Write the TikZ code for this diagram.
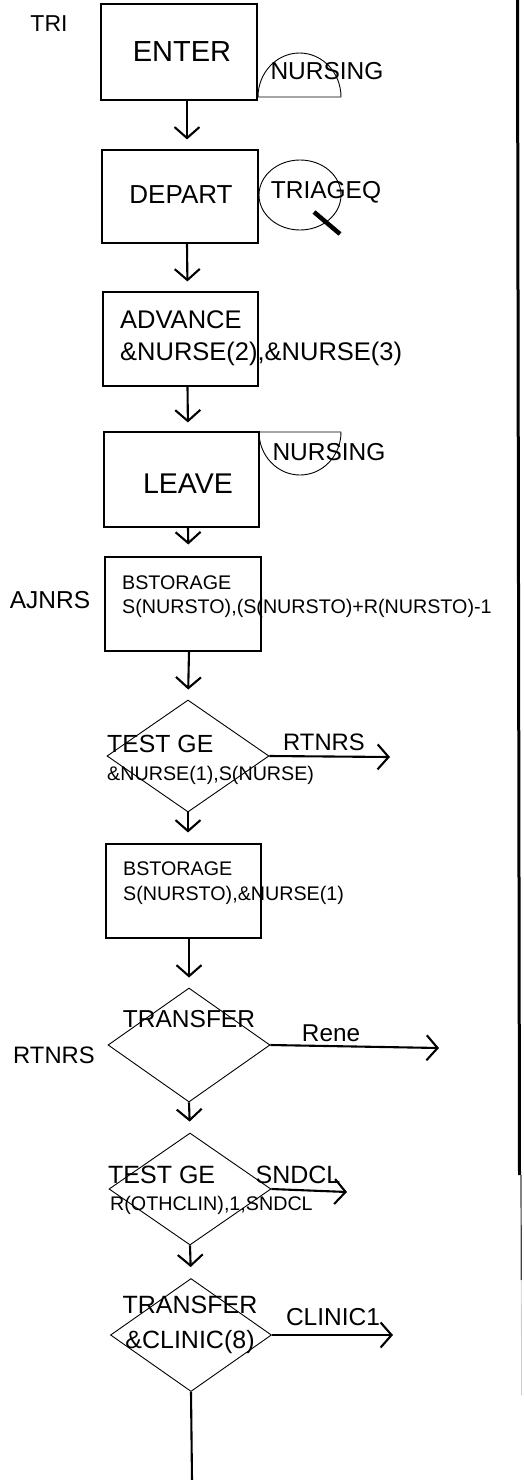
\documentclass[tikz,border=0pt]{standalone}
\usepackage{fontspec}
\setmainfont{Liberation Sans}
\usetikzlibrary{arrows.meta,shapes.geometric}
\tikzset{
  blk/.style={draw, line width=1.1pt, rectangle, inner sep=0pt},
  dia/.style={draw, line width=0.9pt, diamond, inner sep=0pt},
  conn/.style={line width=2.1pt, -{Straight Barb[length=11pt,width=25pt]}},
  thin/.style={draw, line width=0.9pt},
  txt/.style={inner sep=0pt},
  fbig/.style={font={\fontsize{28.5}{30}\selectfont}},
  fmid/.style={font={\fontsize{24.5}{28}\selectfont}},
  fsml/.style={font={\fontsize{19.7}{22}\selectfont}},
}
\begin{document}
\begin{tikzpicture}[x=1pt,y=-1pt]
\useasboundingbox (0,0) rectangle (523,1480);

% scan border on the right
\draw[line width=3pt] (517.5,0) -- (519.5,1175);
\draw[line width=1.2pt, black!75] (521,1175) -- (521.3,1280);
\draw[line width=0.8pt, black!20] (521.3,1280) -- (521.5,1395);

% left labels
\node[txt, font={\fontsize{23}{25}\selectfont}] (tri) at (49,24) {TRI};
\node[txt, fmid] (ajnrs) at (50,600) {AJNRS};
\node[txt, font={\fontsize{23.8}{26}\selectfont}] (rtnrsl) at (54,1055) {RTNRS};

% ENTER
\node[blk, minimum width=156pt, minimum height=96pt] (enter) at (179,52) {};
\node[txt, font={\fontsize{29}{30}\selectfont}] (entert) at (182,52) {ENTER};
\draw[thin] (258,97) arc[start angle=180,end angle=0,x radius=41.5pt,y radius=44pt] -- cycle;
\node[txt, fmid] (nurs1) at (327,71) {NURSING};

% DEPART
\node[blk, minimum width=156pt, minimum height=93pt] (depart) at (180,196.5) {};
\node[txt, font={\fontsize{26}{28}\selectfont}] (departt) at (181,195) {DEPART};
\draw[thin] (300,195) ellipse[x radius=41pt, y radius=35pt];
\node[txt, fmid] (triageq) at (326,192) {TRIAGEQ};
\draw[line width=4.5pt] (314,212) -- (340,234);

% ADVANCE
\node[blk, minimum width=155pt, minimum height=94pt] (advance) at (180.5,339) {};
\node[txt, anchor=west, align=left, font={\fontsize{25.5}{31.5}\selectfont}] (advancet) at (120,338) {ADVANCE\\\&NURSE(2),\&NURSE(3)};

% LEAVE
\node[blk, minimum width=155pt, minimum height=95pt] (leave) at (181.5,479.5) {};
\node[txt, fbig] (leavet) at (188,484) {LEAVE};
\draw[thin] (259,432) arc[start angle=180,end angle=360,x radius=41pt,y radius=43pt] -- cycle;
\node[txt, fmid] (nurs2) at (329,452) {NURSING};

% BSTORAGE 1
\node[blk, minimum width=156pt, minimum height=94pt] (bst1) at (183,604) {};
\node[txt, anchor=west, align=left, font={\fontsize{19.7}{24}\selectfont}] (bst1t) at (122,596.5) {BSTORAGE\\S(NURSTO),(S(NURSTO)+R(NURSTO)-1};

% TEST GE 1
\node[dia, minimum width=162pt, minimum height=112pt] (d1) at (188,756) {};
\node[txt, anchor=west, font={\fontsize{24.8}{27}\selectfont}] (d1a) at (107,743.5) {TEST GE};
\node[txt, anchor=west, fsml] (d1b) at (107,775) {\&NURSE(1),S(NURSE)};
\coordinate (e1) at (390,757);
\node[txt, font={\fontsize{23.8}{26}\selectfont}] (rtnrs) at (324,742) {RTNRS};

% BSTORAGE 2
\node[blk, minimum width=155pt, minimum height=94pt] (bst2) at (183.5,891) {};
\node[txt, anchor=west, align=left, font={\fontsize{19.7}{25.5}\selectfont}] (bst2t) at (123,883) {BSTORAGE\\S(NURSTO),\&NURSE(1)};

% TRANSFER 1
\node[dia, minimum width=162pt, minimum height=114pt] (d2) at (189,1045) {};
\node[txt, fmid] (d2a) at (189,1019) {TRANSFER};
\coordinate (e2) at (439,1048);
\node[txt, font={\fontsize{24.3}{26}\selectfont}] (rene) at (331,1033) {Rene};

% TEST GE 2
\node[dia, minimum width=162pt, minimum height=112pt] (d3) at (190,1189) {};
\node[txt, anchor=west, font={\fontsize{25}{27}\selectfont}] (d3a) at (108,1175) {TEST GE};
\node[txt, anchor=west, fsml] (d3b) at (110,1205) {R(OTHCLIN),1,SNDCL};
\coordinate (e3) at (347,1192);
\node[txt, font={\fontsize{25}{27}\selectfont}] (sndcl) at (298,1175) {SNDCL};

% TRANSFER 2
\node[dia, minimum width=161pt, minimum height=113pt] (d4) at (191,1335) {};
\node[txt, align=center, font={\fontsize{25}{34.5}\selectfont}] (d4t) at (190,1325) {TRANSFER\\\&CLINIC(8)};
\coordinate (e4) at (393,1335);
\node[txt, fmid] (clinic1) at (333,1317.5) {CLINIC1};
\coordinate (bot) at (192,1480);

% connectors
\draw[conn, shorten >=10pt] ([xshift=8pt]enter.south) -- ([xshift=7pt]depart.north);
\draw[conn, shorten >=10pt] ([xshift=7pt]depart.south) -- ([xshift=7pt]advance.north);
\draw[conn, shorten >=9pt] ([xshift=7pt]advance.south) -- ([xshift=6.5pt]leave.north);
\draw[conn, shorten >=12pt] ([xshift=6.5pt]leave.south) -- ([xshift=5.5pt]bst1.north);
\draw[conn, shorten >=10pt] ([xshift=6pt]bst1.south) -- (d1.north);
\draw[conn, shorten >=11pt] (d1.south) -- (d1.south |- bst2.north);
\draw[conn, shorten >=10pt] (bst2.south -| d2.north) -- (d2.north);
\draw[conn, shorten >=11pt] (d2.south) -- (d3.north);
\draw[conn, shorten >=11pt] (d3.south) -- (d4.north);
\draw[line width=2.1pt] (d4.south) -- (bot);
\draw[conn] (d1.east) -- (e1);
\draw[conn] (d2.east) -- (e2);
\draw[conn] (d3.east) -- (e3);
\draw[conn] (d4.east) -- (e4);
\end{tikzpicture}
\end{document}
